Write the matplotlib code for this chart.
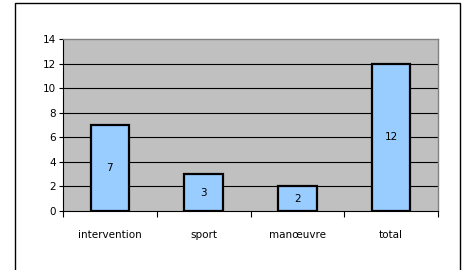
import matplotlib
matplotlib.use("Agg")
import matplotlib.pyplot as plt
from matplotlib.patches import Rectangle

categories = ["intervention", "sport", "manœuvre", "total"]
values = [7, 3, 2, 12]
y_ticks = [0, 2, 4, 6, 8, 10, 12, 14]

W, H = 465, 270
plt.rcParams["font.family"] = ["DejaVu Sans"]
fs = 7.5

fig = plt.figure(figsize=(W / 100, H / 100), dpi=100)
fig.patch.set_facecolor("white")

# outer chart frame (bottom edge runs off the image)
fig.patches.append(Rectangle((15 / W, -0.05), (460 - 15) / W, 1.05 - 3 / H,
                             transform=fig.transFigure, fill=False,
                             edgecolor="black", linewidth=1.0))

ax = fig.add_axes([63 / W, 1 - 211 / H, (438 - 63) / W, (211 - 39) / H])
ax.set_facecolor("#C0C0C0")

x = range(len(categories))
bars = ax.bar(x, values, width=0.41, color="#99CCFF", edgecolor="black",
              linewidth=1.6, zorder=3)
ax.bar_label(bars, label_type="center", fontsize=fs, zorder=4)

ax.set_xlim(-0.5, len(categories) - 0.5)
ax.set_ylim(0, 14)
ax.set_yticks(y_ticks)
ax.tick_params(axis="y", labelsize=fs, length=3, width=0.8, pad=2)
for yv in y_ticks[1:-1]:
    ax.axhline(yv, color="black", linewidth=0.8, zorder=1)

# category boundary ticks, labels between them
ax.set_xticks([i - 0.5 for i in range(len(categories) + 1)])
ax.set_xticklabels([])
ax.set_xticks(list(x), minor=True)
ax.set_xticklabels(categories, minor=True)
ax.tick_params(axis="x", which="major", length=4, width=0.8, direction="out")
ax.tick_params(axis="x", which="minor", length=0, labelsize=fs, pad=14)

for side in ["top", "right"]:
    ax.spines[side].set_color("#808080")
    ax.spines[side].set_linewidth(1.0)
for side in ["left", "bottom"]:
    ax.spines[side].set_color("black")
    ax.spines[side].set_linewidth(0.8)

fig.savefig("out.png", dpi=100)
